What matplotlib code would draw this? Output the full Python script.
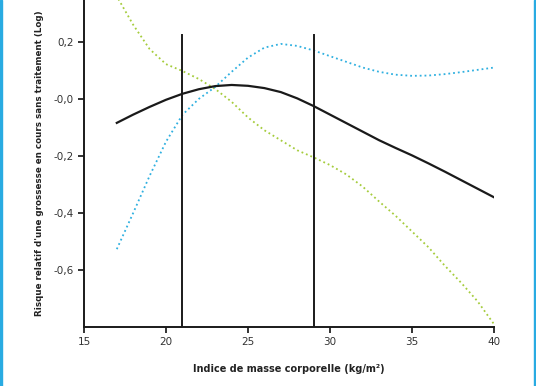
import matplotlib
matplotlib.use('Agg')
import matplotlib.pyplot as plt
from matplotlib.patches import Rectangle

bmi = [17, 18, 19, 20, 21, 22, 23, 24, 25, 26, 27, 28,
       29, 30, 31, 32, 33, 34, 35, 36, 37, 38, 39, 40]

risk_all = [-0.084, -0.055, -0.028, -0.003, 0.018, 0.034, 0.045, 0.049,
            0.046, 0.038, 0.024, 0.002, -0.025, -0.055, -0.085, -0.115,
            -0.145, -0.172, -0.198, -0.226, -0.255, -0.285, -0.315, -0.345]

risk_blue = [-0.527, -0.40, -0.27, -0.15, -0.056, 0.0, 0.042, 0.095,
             0.145, 0.180, 0.193, 0.186, 0.170, 0.150, 0.130, 0.110,
             0.095, 0.085, 0.081, 0.082, 0.087, 0.094, 0.102, 0.110]

risk_green = [0.36, 0.26, 0.175, 0.122, 0.098, 0.07, 0.035, -0.01,
              -0.065, -0.11, -0.145, -0.18, -0.205, -0.232, -0.265, -0.308,
              -0.36, -0.41, -0.465, -0.52, -0.585, -0.645, -0.71, -0.79]

cutoffs = [21, 29]
cutoff_top = 0.225

xticks = [15, 20, 25, 30, 35, 40]
yticks = [0.2, 0.0, -0.2, -0.4, -0.6]
ytick_labels = ['0,2', '-0,0', '-0,2', '-0,4', '-0,6']

fig = plt.figure(figsize=(5.36, 3.86), dpi=100)
ax = fig.add_axes([84/536, 59/386, 410/536, 327/386])

ax.plot(bmi, risk_green, color='#a5cc3c', linestyle=':', linewidth=1.3)
ax.plot(bmi, risk_blue, color='#2fb0e0', linestyle=':', linewidth=1.3)
ax.plot(bmi, risk_all, color='#1a1a1a', linewidth=1.6)
for c in cutoffs:
    ax.plot([c, c], [-0.8, cutoff_top], color='#1a1a1a', linewidth=1.4)

ax.set_xlim(15, 40)
ax.set_ylim(-0.8, 0.347)
ax.set_xticks(xticks)
ax.set_yticks(yticks)
ax.set_yticklabels(ytick_labels)
ax.tick_params(direction='out', length=4, width=1.4, labelsize=7.5,
               colors='#333333')
for s in ['top', 'right']:
    ax.spines[s].set_visible(False)
for s in ['left', 'bottom']:
    ax.spines[s].set_linewidth(1.4)
    ax.spines[s].set_color('#1a1a1a')

ax.set_xlabel('Indice de masse corporelle (kg/m²)', fontsize=7,
              fontweight='semibold', color='#222222', labelpad=12)
ax.set_ylabel("Risque relatif d'une grossesse en cours sans traitement (Log)",
              fontsize=6.3, fontweight='semibold', color='#222222', labelpad=7)

fig.add_artist(Rectangle((0, 0), 2/536, 1, transform=fig.transFigure,
                         color='#29abe2'))
fig.add_artist(Rectangle((533.5/536, 0), 2.5/536, 1, transform=fig.transFigure,
                         color='#29abe2'))

fig.savefig('out.png', dpi=100)
